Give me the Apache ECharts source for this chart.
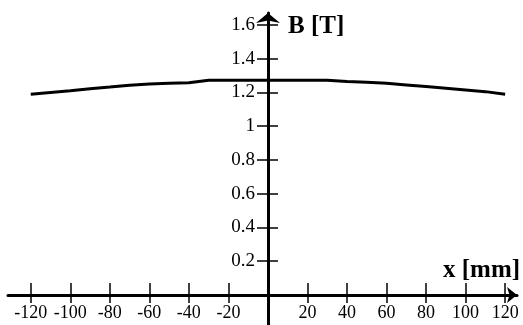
<!DOCTYPE html>
<html>
<head>
<meta charset="utf-8">
<title>B(x)</title>
<script src="https://cdn.jsdelivr.net/npm/echarts@6/dist/echarts.min.js"></script>
<style>
  html, body {margin:0;padding:0;background:#fff;}
  #chart {width:523px;height:325px;}
</style>
</head>
<body>
<div id="chart"></div>
<script>
// field profile along x
var xPos = [-120, -110, -100, -90, -80, -70, -60, -50, -40, -30, -20, -10, 0, 10, 20, 30, 40, 50, 60, 70, 80, 90, 100, 110, 120];
var bField = [1.19, 1.20, 1.21, 1.222, 1.232, 1.243, 1.25, 1.254, 1.258, 1.272, 1.272, 1.272, 1.272, 1.272, 1.272, 1.272, 1.265, 1.26, 1.254, 1.245, 1.235, 1.225, 1.215, 1.205, 1.19];
var xTicks = [-120, -100, -80, -60, -40, -20, 20, 40, 60, 80, 100, 120];
var yTicks = [0.2, 0.4, 0.6, 0.8, 1, 1.2, 1.4, 1.6];

var serif = 'Liberation Serif';
var pts = [];
for (var i = 0; i < xPos.length; i++) pts.push([xPos[i], bField[i]]);

var chart = echarts.init(document.getElementById('chart'));
var baseX = {type: 'value', min: -131.5, max: 126, position: 'bottom', offset: -30, splitLine: {show: false}};
var baseY = {type: 'value', min: -0.178, max: 1.671, position: 'left', offset: -260, splitLine: {show: false}};
chart.setOption({
  animation: false,
  grid: {left: 8, right: 6, top: 13, bottom: 0, containLabel: false, outerBoundsMode: 'none'},
  xAxis: [
    Object.assign({}, baseX, {
      axisLine: {onZero: false, symbol: ['none', 'arrow'], symbolSize: [12, 10], lineStyle: {color: '#000', width: 3}},
      axisTick: {customValues: xTicks, length: 8, lineStyle: {color: '#000', width: 1.5}},
      axisLabel: {customValues: xTicks, margin: 9, hideOverlap: false, color: '#000', fontFamily: serif, fontSize: 18}
    }),
    Object.assign({}, baseX, {
      axisLine: {onZero: false, show: false},
      axisTick: {customValues: xTicks, inside: true, length: 12, lineStyle: {color: '#000', width: 1.5}},
      axisLabel: {show: false}
    })
  ],
  yAxis: [
    Object.assign({}, baseY, {
      axisLine: {onZero: false, symbol: ['none', 'arrow'], symbolSize: [18, 10], lineStyle: {color: '#000', width: 3}},
      axisTick: {customValues: yTicks, length: 11, lineStyle: {color: '#000', width: 1.5}},
      axisLabel: {customValues: yTicks, margin: 13, hideOverlap: false, color: '#000', fontFamily: serif, fontSize: 19,
        formatter: function (v) { return String(Math.round(v * 10) / 10); }}
    }),
    Object.assign({}, baseY, {
      axisLine: {onZero: false, show: false},
      axisTick: {customValues: yTicks, inside: true, length: 10, lineStyle: {color: '#000', width: 1.5}},
      axisLabel: {show: false}
    })
  ],
  graphic: [
    {type: 'text', left: 288, top: 14, style: {text: 'B [T]', font: 'bold 25px "Liberation Serif"', fill: '#000'}},
    {type: 'text', left: 443, top: 258, style: {text: 'x [mm]', font: 'bold 25px "Liberation Serif"', fill: '#000'}}
  ],
  series: [{
    type: 'line',
    data: pts,
    showSymbol: false,
    lineStyle: {color: '#000', width: 3},
    xAxisIndex: 0, yAxisIndex: 0
  }]
});
</script>
</body>
</html>
